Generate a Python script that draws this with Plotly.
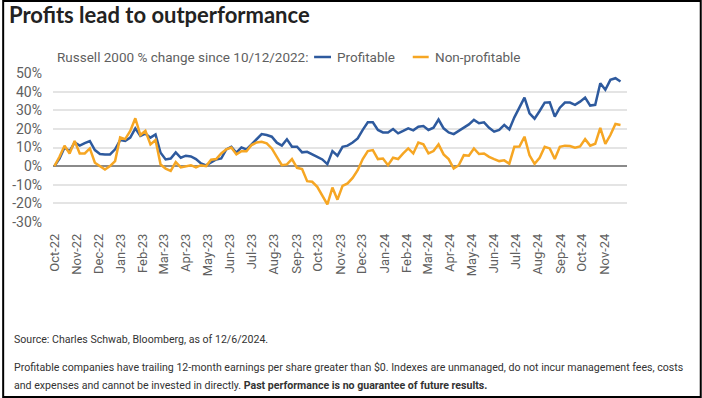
import pandas as pd
import plotly.graph_objects as go

# ---- data (weekly, % change since 10/12/2022) ----
start_date = "2022-10-12"
n_weeks = 113
profitable = [
    0, 4, 10, 8, 12.7, 11, 12.4, 13.5, 8.6, 6.5, 6.3, 6.3, 9, 14, 13.5, 15.3, 20.3, 16.2, 17.4, 15.3,
    17, 7.2, 3.6, 4.1, 7.4, 4.5, 5.6, 5.2, 3.8, 1.4, 0.4, 1.8, 3.6, 4.1, 9, 10.4, 7.2, 10, 9, 11.7,
    14.2, 17.2, 16.7, 15.8, 12.6, 11, 14.4, 10.4, 10.4, 7.4, 7.7, 6.5, 5, 3.6, 1.1, 8.1, 5.6, 10.4, 11, 12.7,
    14.9, 19.5, 23.5, 23.5, 19.4, 18.1, 18, 19.9, 17.6, 18.9, 20.3, 19.2, 21.2, 21.5, 19.4, 20.6, 25, 20.3, 18.1, 17.2,
    18.9, 20.6, 22.4, 24.8, 23, 23.5, 20.6, 18.5, 19.4, 22.1, 19.7, 26.2, 31.4, 36.8, 28.4, 25.5, 29.6, 34.1, 34.3, 26.6,
    31.4, 34.1, 34.1, 32.9, 34.6, 36.8, 32.5, 32.9, 44.5, 41, 46.3, 47.2, 45.4,
]
non_profitable = [
    0, 5, 11, 6.8, 13.5, 6.8, 6.8, 9.5, 1.8, 0, -1.8, 0, 2.7, 15.4, 14.5, 18.9, 25.7, 16.7, 18.9, 11.7,
    14, 0.9, -1.3, -2.5, 2.2, -0.7, 0, 0.5, -0.7, 0.5, 0, 3.4, 3.8, 6.8, 9, 10, 6.3, 8, 8, 11.3,
    12.7, 13.1, 12.2, 9.5, 5, 0.5, 0.9, 3.8, -0.9, -1.6, -8.1, -8.4, -11.1, -15.6, -20.6, -11.5, -18, -10.6, -9.3, -6.3,
    -2.2, 3.8, 8.1, 8.6, 3.8, 4.1, 0.5, 4.5, 3.8, 6.8, 9.5, 6.8, 12.7, 11.7, 6.8, 8.1, 11.7, 6.3, 3.8, -1.3,
    0.5, 5.9, 5.6, 9.5, 6.5, 6.8, 5, 3.8, 2.7, 3.1, 1.3, 10.4, 10.5, 15.8, 5.8, 1.2, 4.5, 10.4, 9.5, 3.8,
    10.4, 11, 10.8, 9.9, 10.6, 14.5, 11, 12, 20.6, 12, 16.7, 22.6, 22.1,
]
series_names = ["Profitable", "Non-profitable"]
series_colors = ["#2E5A9E", "#F6A623"]
y_ticks = [-30, -20, -10, 0, 10, 20, 30, 40, 50]
y_tick_text = [f"{v}%" for v in y_ticks]

dates = pd.date_range(start_date, periods=n_weeks, freq="7D")
tick_dates = pd.date_range("2022-10-01", "2024-11-01", freq="MS") + pd.Timedelta(days=11)
tick_text = [d.strftime("%b-%y") for d in tick_dates]

W, H = 702, 398
ML, MR, MT, MB = 51, 75, 73, 176
PW = W - ML - MR
PH = H - MT - MB


def px(x):
    return (x - ML) / PW


def py(y):
    return (H - MB - y) / PH


fig = go.Figure()
for name, vals, col in zip(series_names, [profitable, non_profitable], series_colors):
    fig.add_trace(go.Scatter(x=dates, y=vals, mode="lines", name=name,
                             line=dict(color=col, width=2.5), showlegend=False))

GRAY = "#5f5f5f"
FONT = "Roboto"
FOOT = 10.6

annotations = [
    dict(text="<b>Profits lead to outperformance</b>", x=px(5), y=py(15), xanchor="left", yanchor="middle",
         font=dict(family="Lato", size=22, color="#222222")),
    dict(text="Russell 2000 % change since 10/12/2022:", x=px(53), y=py(57), xanchor="left", yanchor="middle",
         font=dict(family=FONT, size=13.5, color=GRAY)),
    dict(text=series_names[0], x=px(334), y=py(57), xanchor="left", yanchor="middle",
         font=dict(family=FONT, size=13.5, color=GRAY)),
    dict(text=series_names[1], x=px(432), y=py(57), xanchor="left", yanchor="middle",
         font=dict(family=FONT, size=13.5, color=GRAY)),
    dict(text="Source: Charles Schwab, Bloomberg, as of 12/6/2024.", x=px(10), y=py(339),
         xanchor="left", yanchor="middle", font=dict(family=FONT, size=FOOT, color="#333333")),
    dict(text="Profitable companies have trailing 12-month earnings per share greater than $0. Indexes are unmanaged, do not incur management fees, costs",
         x=px(10), y=py(367), xanchor="left", yanchor="middle", font=dict(family=FONT, size=FOOT, color="#333333")),
    dict(text="and expenses and cannot be invested in directly. <b>Past performance is no guarantee of future results.</b>",
         x=px(10), y=py(386), xanchor="left", yanchor="middle", font=dict(family=FONT, size=FOOT, color="#333333")),
]
for a in annotations:
    a.update(xref="paper", yref="paper", showarrow=False)

shapes = [
    dict(type="line", xref="paper", yref="paper", x0=px(313), x1=px(330), y0=py(57), y1=py(57),
         line=dict(color=series_colors[0], width=2.5)),
    dict(type="line", xref="paper", yref="paper", x0=px(412), x1=px(428), y0=py(57), y1=py(57),
         line=dict(color=series_colors[1], width=2.5)),
    dict(type="rect", xref="paper", yref="paper", x0=px(1), x1=px(701), y0=py(1), y1=py(397),
         line=dict(color="#000000", width=2)),
]

fig.update_layout(
    width=W, height=H,
    margin=dict(l=ML, r=MR, t=MT, b=MB),
    paper_bgcolor="white", plot_bgcolor="white",
    annotations=annotations, shapes=shapes,
    xaxis=dict(type="date", range=["2022-10-10", "2024-12-13"], tickvals=tick_dates, ticktext=tick_text,
               tickangle=-90, showgrid=False, zeroline=False, showline=False, ticks="",
               ticklabelstandoff=8, tickfont=dict(family=FONT, size=13, color=GRAY)),
    yaxis=dict(range=[-30, 50], tickvals=y_ticks, ticktext=y_tick_text, showgrid=True, gridcolor="#e4e4e4",
               gridwidth=1.5, zeroline=True, zerolinecolor="#8a8a8a", zerolinewidth=2, showline=False,
               ticks="", ticklabelstandoff=10, tickfont=dict(family=FONT, size=14, color=GRAY)),
)

fig.write_html("out.html", config={"displayModeBar": False},
               post_script="document.body.style.margin='0';document.body.style.overflow='hidden';")
